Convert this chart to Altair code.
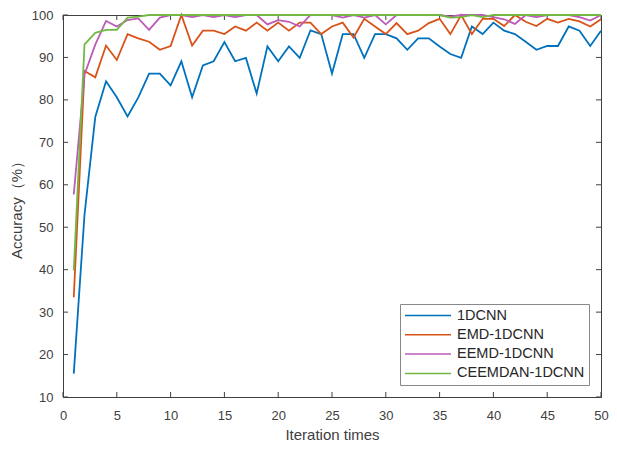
import altair as alt
import pandas as pd

iters = list(range(1, 51))
names = ["1DCNN", "EMD-1DCNN", "EEMD-1DCNN", "CEEMDAN-1DCNN"]
colors = ["#0072BD", "#D95319", "#BD5BB8", "#72B843"]

cnn = [15.5, 53, 76, 84.4, 80.6, 76.1, 80.6, 86.2, 86.2, 83.4,
       89.1, 80.6, 88.1, 89.1, 93.6, 89.1, 89.9, 81.5, 92.6, 89.1,
       92.6, 89.9, 96.4, 95.5, 86.2, 95.5, 95.5, 89.9, 95.5, 95.5,
       94.5, 91.8, 94.5, 94.5, 92.6, 90.8, 89.9, 97.3, 95.5, 98.2,
       96.3, 95.5, 93.7, 91.8, 92.7, 92.7, 97.3, 96.3, 92.7, 96.3]
emd = [33.5, 86.8, 85.3, 92.8, 89.4, 95.5, 94.5, 93.7, 91.8, 92.7,
       100, 92.8, 96.3, 96.3, 95.5, 97.3, 96.3, 98.2, 96.3, 98.2,
       96.3, 98.2, 98.2, 95.5, 97.3, 98.2, 94.7, 99.1, 97.3, 95.5,
       98.1, 95.5, 96.3, 98.1, 99.1, 95.5, 100, 95.5, 99.1, 99.1,
       97.4, 100, 98.4, 97.4, 99.1, 98.2, 99.1, 98.5, 97.3, 99.0]
eemd = [57.7, 86, 93, 98.6, 97.3, 98.8, 99.2, 96.5, 99.4, 100,
        100, 99.5, 100, 99.5, 100, 99.5, 100, 100, 97.8, 98.8,
        98.4, 97.3, 100, 100, 100, 99.4, 100, 99.4, 100, 97.8,
        100, 100, 100, 100, 100, 99.6, 100, 100, 100, 99.5,
        99, 97.9, 100, 99.5, 100, 100, 100, 99.5, 98.7, 100]
ceemdan = [39.8, 93.1, 95.8, 96.5, 96.5, 99.4, 99.6, 100, 100, 100,
           100, 100, 100, 100, 100, 100, 100, 100, 100, 100,
           100, 100, 100, 100, 100, 100, 100, 100, 100, 100,
           100, 100, 100, 100, 100, 99.4, 99.5, 100, 99.5, 100,
           100, 100, 100, 100, 100, 100, 100, 100, 100, 100]
series = [cnn, emd, eemd, ceemdan]

x_ticks = list(range(0, 51, 5))
y_ticks = list(range(10, 101, 10))

rows = []
for name, vals in zip(names, series):
    for i, v in zip(iters, vals):
        rows.append({"iter": i, "acc": v, "model": name})
df = pd.DataFrame(rows)
xt = pd.DataFrame({"iter": x_ticks})
yt = pd.DataFrame({"acc": y_ticks})

W, H = 538, 382
TXT = "#404040"
xs = alt.Scale(domain=[0, 50], nice=False, zero=False)
ys = alt.Scale(domain=[10, 100], nice=False, zero=False)

xenc = alt.X("iter:Q", scale=xs, axis=alt.Axis(
    values=x_ticks, ticks=False, tickSize=0, grid=False, labelPadding=12,
    labelFlush=False,
    title="Iteration times", titlePadding=5, labelFontSize=13,
    titleFontSize=15, titleFontWeight="normal", labelColor=TXT,
    titleColor=TXT, domainColor=TXT, format="d"))
yenc = alt.Y("acc:Q", scale=ys, axis=alt.Axis(
    values=y_ticks, ticks=False, tickSize=0, grid=False, labelPadding=10,
    labelFlush=False,
    title="Accuracy（%）", titlePadding=7, labelFontSize=13,
    titleFontSize=15, titleFontWeight="normal", labelColor=TXT,
    titleColor=TXT, domainColor=TXT, format="d"))

color = alt.Color("model:N", scale=alt.Scale(domain=names, range=colors),
                  sort=names,
                  legend=alt.Legend(title=None, orient="bottom-right",
                                    offset=12, symbolType="stroke",
                                    symbolSize=2116, symbolStrokeWidth=1.5,
                                    clipHeight=15,
                                    labelFontSize=14.5, labelColor="#262626",
                                    labelOffset=5, rowPadding=3.3,
                                    padding=4, strokeColor="#888888",
                                    fillColor="white"))

layers = []
for n in names:
    layers.append(
        alt.Chart(df).transform_filter(alt.datum.model == n)
        .mark_line(strokeWidth=1.8, clip=False)
        .encode(x=xenc, y=yenc, color=color)
    )

tick_style = dict(color=TXT, strokeWidth=1)
bx = alt.Chart(xt).mark_rule(**tick_style).encode(x=xenc, y=alt.value(H), y2=alt.value(H - 5))
tx = alt.Chart(xt).mark_rule(**tick_style).encode(x=xenc, y=alt.value(0), y2=alt.value(5))
ly = alt.Chart(yt).mark_rule(**tick_style).encode(y=yenc, x=alt.value(0), x2=alt.value(5))
ry = alt.Chart(yt).mark_rule(**tick_style).encode(y=yenc, x=alt.value(W), x2=alt.value(W - 5))

chart = alt.layer(bx, tx, ly, ry, *layers).properties(
    width=W, height=H,
    autosize=alt.AutoSizeParams(type="none"),
    padding={"left": 55, "top": 7, "right": 8, "bottom": 45},
).configure(font="Liberation Sans").configure_view(
    stroke=TXT, strokeWidth=1
)

chart.save("out.html", embed_options={"renderer": "svg", "actions": False})
